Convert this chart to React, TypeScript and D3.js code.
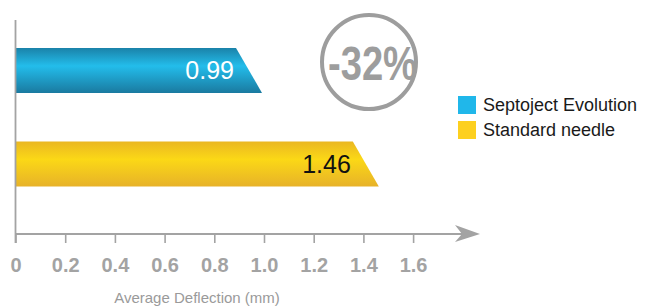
import { useEffect, useRef } from 'react';
import * as d3 from 'd3';

// données
const categories = ['Septoject Evolution', 'Standard needle'];
const values = [0.99, 1.46];
const valueLabels = ['0.99', '1.46'];
const xTicks = [0, 0.2, 0.4, 0.6, 0.8, 1.0, 1.2, 1.4, 1.6];
const xTickLabels = ['0', '0.2', '0.4', '0.6', '0.8', '1.0', '1.2', '1.4', '1.6'];
const badgeText = '-32%';
const axisTitle = 'Average Deflection (mm)';

const barStops = [
    ['#1a82a9', '#23bdeb', '#1a7aa0'],
    ['#eab722', '#fbd816', '#e7b229'],
];
const legendColors = ['#20b7ea', '#fdd01f'];
const textColors = ['#ffffff', '#111111'];

export default function App() {
    const svgRef = useRef<SVGSVGElement>(null);

    useEffect(() => {
        if (!svgRef.current) return;
        const svg = d3.select(svgRef.current);
        svg.selectAll('*').remove();

        const font = '"Liberation Sans", Arial, Helvetica, sans-serif';
        const gray = '#a3a3a3';

        // 1. Échelles
        const x = d3.scaleLinear().domain([0, 1]).range([16, 264.5]);
        const y = d3.scaleBand<string>()
            .domain(categories)
            .range([23.7, 210.7])
            .paddingInner(0.52)
            .paddingOuter(0.26);
        const axisY = 234;

        // 2. Dégradés
        const defs = svg.append('defs');
        barStops.forEach((stops, i) => {
            const grad = defs.append('linearGradient')
                .attr('id', `grad${i}`)
                .attr('x1', 0).attr('y1', 0).attr('x2', 0).attr('y2', 1);
            grad.append('stop').attr('offset', '0%').attr('stop-color', stops[0]);
            grad.append('stop').attr('offset', '40%').attr('stop-color', stops[1]);
            grad.append('stop').attr('offset', '100%').attr('stop-color', stops[2]);
        });

        // 3. Barres (coin supérieur droit coupé)
        const cut = 26;
        categories.forEach((c, i) => {
            const top = y(c)!;
            const bh = y.bandwidth();
            const x0 = x(0);
            const x1 = x(values[i]);
            svg.append('path')
                .attr('d', `M${x0},${top}L${x1 - cut},${top}L${x1},${top + bh}L${x0},${top + bh}Z`)
                .attr('fill', `url(#grad${i})`);
            svg.append('text')
                .attr('x', x1 - cut - 2)
                .attr('y', top + bh / 2 + 9)
                .attr('text-anchor', 'end')
                .attr('font-family', font)
                .attr('font-size', 25)
                .attr('fill', textColors[i])
                .text(valueLabels[i]);
        });

        // 4. Axes
        svg.append('line')
            .attr('x1', 15.5).attr('x2', 15.5)
            .attr('y1', 20).attr('y2', axisY + 9)
            .attr('stroke', gray).attr('stroke-width', 1.8);

        svg.append('line')
            .attr('x1', 15).attr('x2', 466)
            .attr('y1', axisY).attr('y2', axisY)
            .attr('stroke', gray).attr('stroke-width', 1.8);

        svg.append('path')
            .attr('d', `M455,${axisY - 9}L480,${axisY}L455,${axisY + 8}L462,${axisY}Z`)
            .attr('fill', gray);

        svg.selectAll('.tick')
            .data(xTicks)
            .enter().append('line')
            .attr('x1', d => x(d)).attr('x2', d => x(d))
            .attr('y1', axisY).attr('y2', axisY + 9)
            .attr('stroke', gray).attr('stroke-width', 1.6);

        svg.selectAll('.ticklabel')
            .data(xTicks)
            .enter().append('text')
            .attr('x', d => x(d))
            .attr('y', axisY + 38)
            .attr('text-anchor', 'middle')
            .attr('font-family', font)
            .attr('font-weight', 'bold')
            .attr('font-size', 20)
            .attr('fill', gray)
            .text((_, i) => xTickLabels[i]);

        svg.append('text')
            .attr('x', 197)
            .attr('y', 303)
            .attr('text-anchor', 'middle')
            .attr('font-family', font)
            .attr('font-size', 15)
            .attr('fill', '#9a9a9a')
            .text(axisTitle);

        // 5. Pastille -32%
        svg.append('circle')
            .attr('cx', 369).attr('cy', 62).attr('r', 47)
            .attr('fill', 'none')
            .attr('stroke', '#9d9d9d')
            .attr('stroke-width', 4);
        svg.append('text')
            .attr('x', 328)
            .attr('y', 80)
            .attr('textLength', 89)
            .attr('lengthAdjust', 'spacingAndGlyphs')
            .attr('font-family', '"Liberation Sans Narrow", "Liberation Sans", Arial, sans-serif')
            .attr('font-weight', 'bold')
            .attr('font-size', 49)
            .attr('fill', '#9d9d9d')
            .text(badgeText);

        // 6. Légende
        categories.forEach((c, i) => {
            const ly = 96 + i * 25;
            svg.append('rect')
                .attr('x', 458).attr('y', ly)
                .attr('width', 18).attr('height', 18)
                .attr('fill', legendColors[i]);
            svg.append('text')
                .attr('x', 483)
                .attr('y', ly + 15)
                .attr('font-family', font)
                .attr('font-size', 18)
                .attr('fill', '#1a1a1a')
                .text(c);
        });
    }, []);

    return (
        <svg
            ref={svgRef}
            width={648}
            height={307}
            style={{ position: 'absolute', left: 0, top: 0, background: '#fff' }}
        />
    );
}
